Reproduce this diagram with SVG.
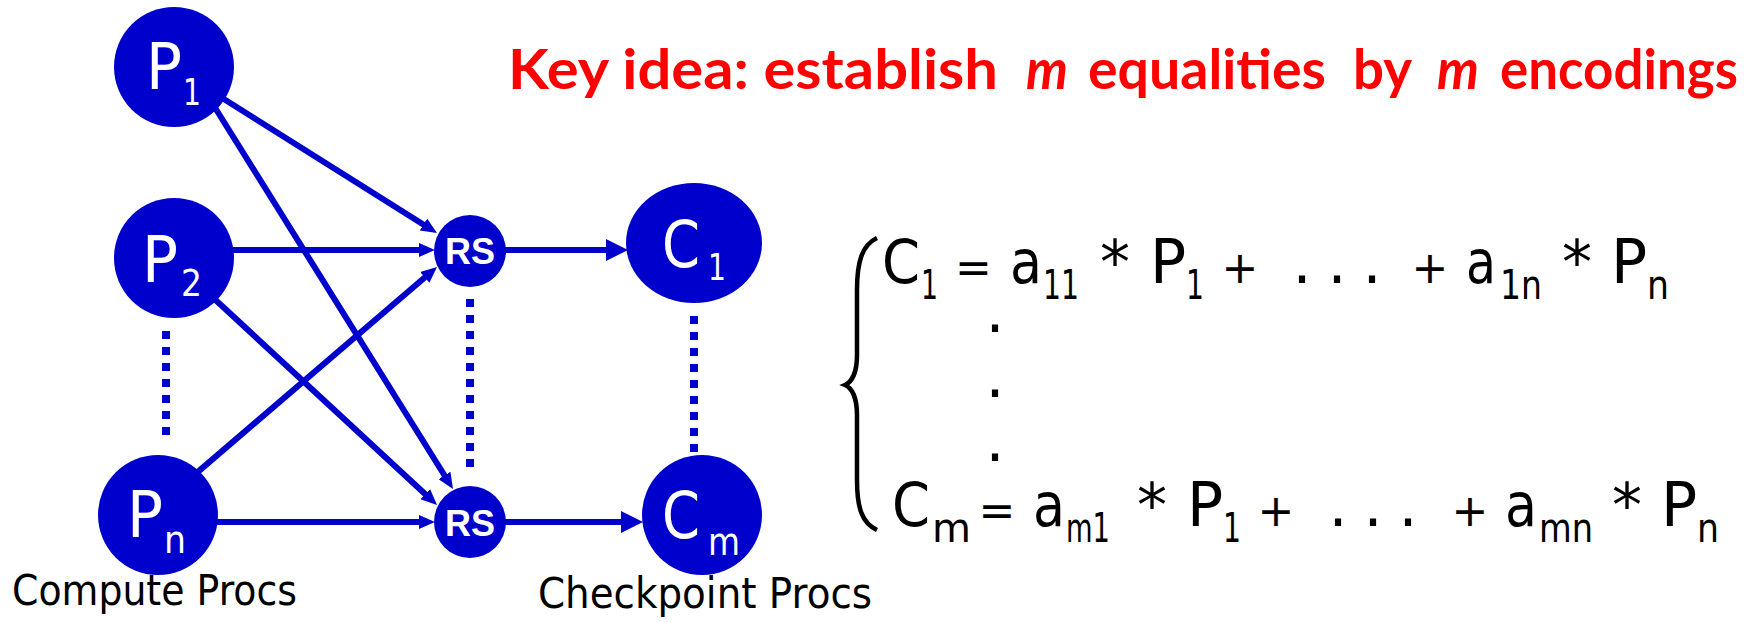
<svg xmlns="http://www.w3.org/2000/svg" width="1758" height="622" viewBox="0 0 1758 622">
<style>
.node{fill:#0000CC}
.edge{stroke:#0000CC;stroke-width:6;fill:none}
.dots{stroke:#0000CC;stroke-width:8;stroke-dasharray:8 8;fill:none}
.lbl{fill:#fff;font-family:"DejaVu Sans",sans-serif}
.big{font-size:64px}
.sub{font-size:38px}
.rs{fill:#fff;font-family:"Liberation Sans",Arial,sans-serif;font-weight:bold;font-size:36px;text-anchor:middle}
.eq{fill:#000;font-family:"DejaVu Sans",sans-serif;font-size:60px}
.op{fill:#000;font-family:"DejaVu Sans",sans-serif;font-size:44px;text-anchor:middle}
.es{fill:#000;font-family:"DejaVu Sans",sans-serif;font-size:40px}
.mid{text-anchor:middle}
.cap{fill:#000;font-family:"DejaVu Sans",sans-serif;font-size:42px}
.title{fill:#FF0000;font-family:Lato,"Noto Sans",sans-serif;font-weight:bold;font-size:56px}
.it{font-style:italic}
</style>
<defs>
<marker id="arrS" markerUnits="userSpaceOnUse" markerWidth="16" markerHeight="14" refX="6" refY="7" orient="auto"><path d="M0,0 L16,7 L0,14 z" fill="#0000CC"/></marker>
<marker id="arrL" markerUnits="userSpaceOnUse" markerWidth="22" markerHeight="22" refX="8" refY="11" orient="auto"><path d="M0,0 L22,11 L0,22 z" fill="#0000CC"/></marker>
</defs>
<rect width="1758" height="622" fill="#fff"/>
<g id="connectors">
<line class="edge" x1="200" y1="84" x2="428.5" y2="227.7" marker-end="url(#arrS)"/>
<line class="edge" x1="204" y1="90" x2="447.7" y2="480.5" marker-end="url(#arrS)"/>
<line class="edge" x1="200" y1="250" x2="425" y2="250" marker-end="url(#arrS)"/>
<line class="edge" x1="195" y1="281" x2="429.7" y2="498.2" marker-end="url(#arrS)"/>
<line class="edge" x1="190" y1="478.6" x2="429.4" y2="273.5" marker-end="url(#arrS)"/>
<line class="edge" x1="200" y1="522" x2="425" y2="522" marker-end="url(#arrS)"/>
<line class="edge" x1="490" y1="250" x2="614" y2="250" marker-end="url(#arrL)"/>
<line class="edge" x1="490" y1="522" x2="629" y2="522" marker-end="url(#arrL)"/>
<line class="dots" x1="166" y1="331" x2="166" y2="437"/>
<line class="dots" x1="470" y1="299" x2="470" y2="469"/>
<line class="dots" x1="694" y1="316" x2="694" y2="452"/>
</g>
<g id="P1"><circle class="node" cx="174" cy="67" r="60"/><text class="lbl big" x="146" y="89" textLength="36" lengthAdjust="spacingAndGlyphs">P</text><text class="lbl sub" x="183" y="105" textLength="18" lengthAdjust="spacingAndGlyphs">1</text></g>
<g id="P2"><circle class="node" cx="174" cy="258" r="60"/><text class="lbl big" x="142" y="282" textLength="36" lengthAdjust="spacingAndGlyphs">P</text><text class="lbl sub" x="181" y="296" textLength="21" lengthAdjust="spacingAndGlyphs">2</text></g>
<g id="Pn"><circle class="node" cx="158" cy="515" r="60"/><text class="lbl big" x="127" y="537" textLength="36" lengthAdjust="spacingAndGlyphs">P</text><text class="lbl sub" x="164" y="553" textLength="22" lengthAdjust="spacingAndGlyphs">n</text></g>
<g id="RS1"><circle class="node" cx="470" cy="251" r="36"/><text class="rs" x="470" y="264">RS</text></g>
<g id="RS2"><circle class="node" cx="470" cy="522" r="36"/><text class="rs" x="470" y="536">RS</text></g>
<g id="C1"><ellipse class="node" cx="694" cy="243" rx="68" ry="60"/><text class="lbl big" x="662" y="267" textLength="38" lengthAdjust="spacingAndGlyphs">C</text><text class="lbl sub" x="708" y="280" textLength="18" lengthAdjust="spacingAndGlyphs">1</text></g>
<g id="Cm"><circle class="node" cx="702" cy="515" r="60"/><text class="lbl big" x="662" y="538" textLength="38" lengthAdjust="spacingAndGlyphs">C</text><text class="lbl sub" x="708" y="555" textLength="32" lengthAdjust="spacingAndGlyphs">m</text></g>
<text class="cap" x="12" y="605" textLength="285" lengthAdjust="spacingAndGlyphs">Compute Procs</text>
<text class="cap" x="538" y="608" textLength="334" lengthAdjust="spacingAndGlyphs">Checkpoint Procs</text>
<g id="title">
<text class="title" x="508" y="89" textLength="490" lengthAdjust="spacingAndGlyphs">Key idea: establish</text>
<text class="title it" x="1026" y="89" textLength="42" lengthAdjust="spacingAndGlyphs">m</text>
<text class="title" x="1088" y="89" textLength="238" lengthAdjust="spacingAndGlyphs">equalities</text>
<text class="title" x="1353" y="89" textLength="59" lengthAdjust="spacingAndGlyphs">by</text>
<text class="title it" x="1437" y="89" textLength="42" lengthAdjust="spacingAndGlyphs">m</text>
<text class="title" x="1500" y="89" textLength="238" lengthAdjust="spacingAndGlyphs">encodings</text>
</g>
<g id="equations">
<path d="M877,238 C862,245 857,262 857,290 L857,355 C857,372 852,382 845,385 C852,388 857,398 857,415 L857,480 C857,508 862,523 877,530" stroke="#000" stroke-width="4.5" fill="none"/>
<text class="eq" x="882" y="283" textLength="38" lengthAdjust="spacingAndGlyphs">C</text><text class="es" x="921" y="299" textLength="17" lengthAdjust="spacingAndGlyphs">1</text>
<text class="op" x="973.5" y="283">=</text>
<text class="eq" x="1010" y="283" textLength="32" lengthAdjust="spacingAndGlyphs">a</text><text class="es" x="1043" y="299" textLength="36" lengthAdjust="spacingAndGlyphs">11</text>
<text class="eq mid" x="1115" y="283">*</text>
<text class="eq" x="1150" y="283">P</text><text class="es" x="1186" y="299" textLength="18" lengthAdjust="spacingAndGlyphs">1</text>
<text class="op" x="1240" y="283">+</text>
<text class="eq" x="1292.5" y="283">.</text><text class="eq" x="1327.5" y="283">.</text><text class="eq" x="1362.5" y="283">.</text>
<text class="op" x="1430" y="283">+</text>
<text class="eq" x="1466" y="283" textLength="30" lengthAdjust="spacingAndGlyphs">a</text><text class="es" x="1500" y="299" textLength="42" lengthAdjust="spacingAndGlyphs">1n</text>
<text class="eq mid" x="1577" y="283">*</text>
<text class="eq" x="1611" y="283">P</text><text class="es" x="1647" y="299" textLength="22" lengthAdjust="spacingAndGlyphs">n</text>
<text class="eq" x="985.5" y="332">.</text>
<text class="eq" x="985.5" y="397">.</text>
<text class="eq" x="985.5" y="461">.</text>
<text class="eq" x="892" y="526" textLength="38" lengthAdjust="spacingAndGlyphs">C</text><text class="es" x="932" y="542">m</text>
<text class="op" x="997" y="526">=</text>
<text class="eq" x="1033" y="526" textLength="32" lengthAdjust="spacingAndGlyphs">a</text><text class="es" x="1066" y="542" textLength="44" lengthAdjust="spacingAndGlyphs">m1</text>
<text class="eq mid" x="1152" y="526">*</text>
<text class="eq" x="1187" y="526">P</text><text class="es" x="1223" y="542" textLength="18" lengthAdjust="spacingAndGlyphs">1</text>
<text class="op" x="1276" y="526">+</text>
<text class="eq" x="1328.5" y="526">.</text><text class="eq" x="1363.5" y="526">.</text><text class="eq" x="1398.5" y="526">.</text>
<text class="op" x="1470" y="526">+</text>
<text class="eq" x="1505" y="526" textLength="32" lengthAdjust="spacingAndGlyphs">a</text><text class="es" x="1539" y="542" textLength="54" lengthAdjust="spacingAndGlyphs">mn</text>
<text class="eq mid" x="1627" y="526">*</text>
<text class="eq" x="1661" y="526">P</text><text class="es" x="1697" y="542" textLength="22" lengthAdjust="spacingAndGlyphs">n</text>
</g>
</svg>
